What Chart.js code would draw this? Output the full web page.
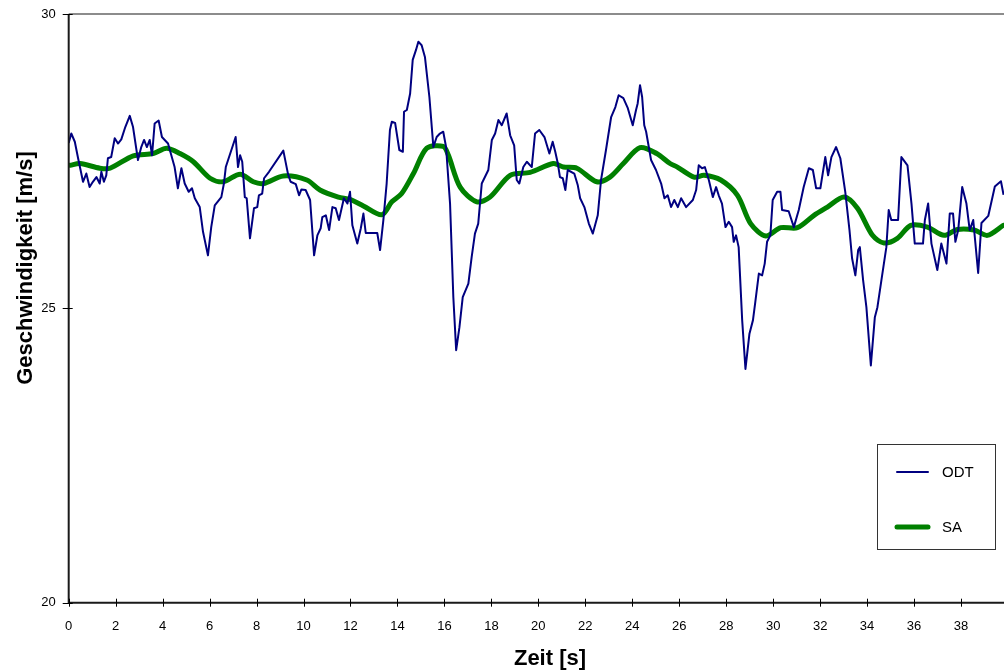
<!DOCTYPE html>
<html>
<head>
<meta charset="utf-8">
<script src="https://cdn.jsdelivr.net/npm/chart.js@4.4.1/dist/chart.umd.min.js"></script>
<style>
html,body{margin:0;padding:0;background:#fff;}
#wrap{width:1004px;height:671px;}
</style>
</head>
<body>
<div id="wrap"><canvas id="c" width="1004" height="671"></canvas></div>
<script>
// ---- Data ----
const seriesNames = ["ODT", "SA"];
const xTitle = "Zeit [s]";
const yTitle = "Geschwindigkeit [m/s]";

const odtTime = [0,0.11,0.26,0.40,0.61,0.75,0.89,1.03,1.18,1.32,1.39,1.50,1.60,1.67,1.81,1.96,2.10,2.24,2.41,2.60,2.74,2.95,3.09,3.21,3.33,3.45,3.55,3.66,3.83,3.97,4.23,4.51,4.65,4.80,4.94,5.11,5.25,5.37,5.58,5.72,5.93,6.07,6.22,6.50,6.61,6.69,7.11,7.21,7.30,7.39,7.50,7.58,7.72,7.89,8.03,8.10,8.24,8.32,8.53,9.14,9.34,9.45,9.67,9.81,9.91,10.09,10.28,10.45,10.59,10.73,10.80,10.95,11.09,11.23,11.37,11.51,11.72,11.87,11.98,12.08,12.29,12.44,12.55,12.65,13.14,13.26,13.40,13.54,13.68,13.76,13.90,14.08,14.23,14.28,14.40,14.54,14.65,14.79,14.89,15.03,15.17,15.36,15.53,15.67,15.81,15.95,16.07,16.24,16.38,16.50,16.64,16.78,17.02,17.16,17.30,17.44,17.59,17.87,18.02,18.16,18.30,18.44,18.65,18.80,18.97,19.08,19.19,19.36,19.51,19.72,19.86,20.04,20.26,20.47,20.61,20.72,20.83,20.92,21.04,21.15,21.25,21.53,21.68,21.78,21.96,22.15,22.32,22.53,22.67,22.88,23.10,23.28,23.42,23.62,23.81,24.02,24.16,24.23,24.33,24.42,24.51,24.59,24.80,25.01,25.23,25.37,25.51,25.65,25.79,25.94,26.08,26.29,26.58,26.72,26.83,26.97,27.09,27.26,27.43,27.57,27.68,27.82,27.97,28.11,28.25,28.32,28.42,28.53,28.68,28.82,28.99,29.14,29.24,29.39,29.53,29.64,29.74,29.88,29.98,30.17,30.31,30.38,30.66,30.88,31.09,31.30,31.52,31.69,31.83,32.01,32.22,32.34,32.48,32.68,32.86,33.07,33.25,33.36,33.50,33.62,33.69,33.83,33.97,34.16,34.33,34.44,34.61,34.82,34.92,35.03,35.32,35.46,35.72,35.89,36.03,36.38,36.46,36.60,36.74,36.99,37.16,37.38,37.52,37.66,37.76,37.88,38.05,38.23,38.37,38.52,38.73,38.87,39.16,39.44,39.70,39.81];
const odtSpeed = [27.81,27.97,27.83,27.55,27.15,27.29,27.06,27.15,27.23,27.12,27.32,27.15,27.26,27.55,27.57,27.89,27.80,27.87,28.08,28.27,28.08,27.52,27.74,27.86,27.74,27.86,27.60,28.14,28.19,27.91,27.80,27.40,27.04,27.38,27.12,26.98,27.04,26.87,26.72,26.30,25.90,26.38,26.75,26.89,27.12,27.40,27.91,27.40,27.60,27.49,26.89,26.87,26.19,26.70,26.72,26.92,26.95,27.21,27.32,27.68,27.28,27.15,27.11,26.92,27.02,27.01,26.84,25.90,26.24,26.36,26.55,26.58,26.33,26.72,26.70,26.50,26.87,26.78,26.98,26.41,26.10,26.36,26.61,26.28,26.28,25.99,26.50,27.12,28.03,28.17,28.15,27.69,27.66,28.34,28.37,28.65,29.22,29.39,29.53,29.47,29.27,28.59,27.74,27.91,27.97,28.00,27.74,26.78,25.19,24.29,24.68,25.19,25.42,25.87,26.27,26.44,27.12,27.35,27.86,27.97,28.20,28.11,28.31,27.94,27.77,27.18,27.12,27.40,27.49,27.40,27.97,28.03,27.91,27.63,27.83,27.66,27.46,27.23,27.21,27.01,27.35,27.29,27.09,26.87,26.72,26.44,26.27,26.58,27.18,27.69,28.25,28.42,28.62,28.57,28.40,28.11,28.37,28.48,28.79,28.59,28.11,28.00,27.52,27.35,27.12,26.87,26.92,26.72,26.84,26.72,26.87,26.72,26.84,27.01,27.43,27.38,27.40,27.18,26.89,27.06,26.92,26.78,26.38,26.47,26.38,26.13,26.24,26.04,24.80,23.97,24.57,24.80,25.11,25.59,25.56,25.76,26.13,26.24,26.84,26.98,26.98,26.67,26.65,26.38,26.67,27.06,27.38,27.35,27.04,27.04,27.57,27.26,27.57,27.74,27.55,26.98,26.33,25.85,25.56,25.99,26.04,25.48,25.02,24.03,24.85,25.02,25.48,26.04,26.67,26.50,26.50,27.57,27.43,26.78,26.10,26.10,26.50,26.78,26.10,25.65,26.10,25.76,26.61,26.61,26.13,26.33,27.06,26.78,26.33,26.50,25.60,26.45,26.57,27.07,27.16,26.93];

const saTime = [0.06,0.48,1.33,1.76,2.75,3.60,4.17,4.74,5.31,6.02,6.58,7.30,7.86,8.29,9.14,10.14,10.70,11.48,11.98,12.55,13.33,13.76,14.18,14.68,15.25,15.95,16.17,16.67,17.38,17.94,18.80,19.65,20.64,21.07,21.64,22.49,23.05,23.62,24.33,25.04,25.61,25.92,26.63,27.06,27.77,28.48,29.04,29.69,30.32,31.03,31.74,32.31,33.02,33.59,34.23,34.72,35.29,35.86,36.57,37.28,37.84,38.56,39.12,39.80];
const saSpeed = [27.43,27.46,27.38,27.38,27.59,27.63,27.72,27.63,27.49,27.21,27.15,27.28,27.15,27.12,27.25,27.18,27.01,26.89,26.85,26.74,26.59,26.81,26.95,27.29,27.72,27.75,27.60,27.06,26.81,26.89,27.26,27.31,27.46,27.40,27.38,27.15,27.23,27.46,27.73,27.63,27.46,27.40,27.23,27.26,27.18,26.92,26.44,26.23,26.37,26.37,26.58,26.72,26.89,26.70,26.24,26.11,26.19,26.41,26.38,26.24,26.34,26.33,26.24,26.41];

const xMin = 0, xMax = 39.83, xStep = 2;
const yMin = 20, yMax = 30, yStep = 5;

const FONT = '"Liberation Sans", Arial, sans-serif';

function pts(xs, ys){ return xs.map((x,i)=>({x:x, y:ys[i]})); }

const decor = {
  id: 'decor',
  afterDraw(chart){
    const ctx = chart.ctx, a = chart.chartArea;
    const xs = chart.scales.x, ys = chart.scales.y;
    ctx.save();
    // top border of plot area (gray)
    ctx.strokeStyle = '#8c8c8c'; ctx.lineWidth = 2;
    ctx.beginPath(); ctx.moveTo(a.left, a.top); ctx.lineTo(a.right, a.top); ctx.stroke();
    // axes
    ctx.strokeStyle = '#1a1a1a'; ctx.lineWidth = 2;
    ctx.beginPath(); ctx.moveTo(a.left, a.top); ctx.lineTo(a.left, a.bottom); ctx.lineTo(a.right, a.bottom); ctx.stroke();
    // crossing tick marks
    ctx.lineWidth = 1; ctx.strokeStyle = '#000';
    xs.ticks.forEach(t=>{
      const px = Math.round(xs.getPixelForValue(t.value)) + 0.5;
      ctx.beginPath(); ctx.moveTo(px, a.bottom - 4); ctx.lineTo(px, a.bottom + 4); ctx.stroke();
    });
    ys.ticks.forEach(t=>{
      const py = Math.round(ys.getPixelForValue(t.value)) + 0.5;
      ctx.beginPath(); ctx.moveTo(a.left - 6, py); ctx.lineTo(a.left + 4, py); ctx.stroke();
    });
    // axis titles
    ctx.fillStyle = '#000';
    ctx.font = 'bold 22px ' + FONT;
    ctx.textAlign = 'center'; ctx.textBaseline = 'alphabetic';
    ctx.fillText(xTitle, 550, 665);
    ctx.save();
    ctx.translate(32, 268);
    ctx.rotate(-Math.PI/2);
    ctx.fillText(yTitle, 0, 0);
    ctx.restore();
    // legend box
    const bx = 877, by = 444, bw = 118, bh = 105;
    ctx.fillStyle = '#fff'; ctx.fillRect(bx, by, bw, bh);
    ctx.strokeStyle = '#333'; ctx.lineWidth = 1;
    ctx.strokeRect(bx + 0.5, by + 0.5, bw, bh);
    const rows = [472, 527];
    chart.data.datasets.forEach((ds, i)=>{
      const yy = rows[i];
      ctx.strokeStyle = ds.borderColor; ctx.lineWidth = ds.borderWidth; ctx.lineCap = 'round';
      ctx.beginPath(); ctx.moveTo(897, yy); ctx.lineTo(928, yy); ctx.stroke();
      ctx.fillStyle = '#000'; ctx.font = '15px ' + FONT;
      ctx.textAlign = 'left'; ctx.textBaseline = 'middle';
      ctx.fillText(ds.label, 942, yy + 1);
    });
    ctx.restore();
  }
};

new Chart(document.getElementById('c'), {
  type: 'line',
  data: {
    datasets: [
      { label: seriesNames[0], data: pts(odtTime, odtSpeed), borderColor: '#000080', borderWidth: 2,
        pointRadius: 0, tension: 0, fill: false, borderJoinStyle: 'round' },
      { label: seriesNames[1], data: pts(saTime, saSpeed), borderColor: '#008000', borderWidth: 5,
        pointRadius: 0, tension: 0.3, fill: false, borderJoinStyle: 'round', borderCapStyle: 'round' }
    ]
  },
  options: {
    responsive: false,
    animation: false,
    devicePixelRatio: 1,
    layout: { padding: { top: 14, left: 0, right: 0, bottom: 0 } },
    plugins: { legend: { display: false }, tooltip: { enabled: false } },
    scales: {
      x: {
        type: 'linear', min: xMin, max: xMax,
        grid: { display: false, drawTicks: false },
        border: { display: false },
        ticks: { stepSize: xStep, includeBounds: false, padding: 16, color: '#000', maxRotation: 0,
                 font: { family: FONT, size: 13 } },
        afterFit: s => { s.height = 68.3; s.paddingLeft = 0; s.paddingRight = 0; s.paddingTop = 0; s.paddingBottom = 0; }
      },
      y: {
        type: 'linear', min: yMin, max: yMax,
        grid: { display: false, drawTicks: false },
        border: { display: false },
        ticks: { stepSize: yStep, padding: 13, color: '#000', font: { family: FONT, size: 13 } },
        afterFit: s => { s.width = 68.7; s.paddingTop = 0; s.paddingBottom = 0; s.paddingLeft = 0; s.paddingRight = 0; }
      }
    }
  },
  plugins: [decor]
});
</script>
</body>
</html>
